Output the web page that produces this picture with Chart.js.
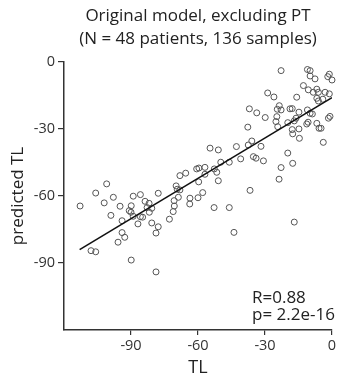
<!DOCTYPE html>
<html>
<head>
<meta charset="utf-8">
<script src="https://cdn.jsdelivr.net/npm/chart.js@4.4.0/dist/chart.umd.min.js"></script>
<style>
  html, body { margin:0; padding:0; background:#fff; }
  #wrap { width:343px; height:382px; }
</style>
</head>
<body>
<div id="wrap"><canvas id="myCanvas" width="343" height="382"></canvas></div>
<script>
// measured TL vs predicted TL, one entry per sample
var tl = [
  -112.8,-107.9,-105.8,-105.8,-102.0,-100.9,-99.0,-97.9,-95.8,-94.9,-94.0,-94.0,-92.8,-90.8,-90.0,-89.9,-89.9,-89.0,-89.0,-86.9,
  -85.8,-85.8,-84.8,-83.7,-82.8,-81.9,-81.8,-80.7,-80.7,-78.8,-78.8,-77.8,-77.8,-72.8,-71.1,-70.6,-70.7,-68.8,-69.8,-68.1,
  -69.3,-68.1,-65.5,-63.7,-63.6,-60.0,-57.9,-59.7,-60.6,-59.6,-56.9,-56.9,-54.6,-50.9,-52.7,-51.6,-50.9,-49.8,-46.0,-42.8,
  -40.9,-37.5,-52.8,-46.0,-43.9,-36.7,
  -37.7,-37.0,-33.7,-29.9,-28.8,-26.0,-22.8,-23.6,-24.5,-22.8,-24.7,-25.1,-24.3,-18.8,-17.8,-15.8,-14.8,-12.8,-11.0,-9.8,
  -9.8,-7.6,-1.2,-1.9,0,-10.6,-6.8,-8.4,-6.1,-3.1,-1.2,-6.8,-6.1,-4.1,-11.0,-9.8,-8.8,-1.6,-0.9,-16.1,
  -16.9,-19.8,-11.3,-10.7,-6.8,-5.8,-4.9,-17.8,-14.8,-17.6,-14.6,-3.9,-35.9,-31.8,-35.2,-34.0,-30.7,-19.8,-17.6,-22.8,
  -23.7,-16.9
];
var predicted = [
  -64.5,-84.5,-85.0,-58.7,-63.1,-54.6,-68.7,-60.6,-80.7,-64.6,-71.1,-76.4,-78.5,-66.6,-67.3,-64.4,-88.7,-60.1,-69.1,-72.5,
  -59.4,-69.3,-69.5,-62.4,-65.2,-63.3,-67.3,-65.5,-72.1,-76.6,-94.0,-58.8,-73.8,-70.4,-67.0,-64.5,-62.1,-60.6,-55.5,-57.3,
  -57.0,-50.9,-49.8,-63.6,-61.0,-60.8,-58.5,-53.7,-47.9,-47.5,-47.2,-50.3,-38.6,-39.4,-47.9,-49.4,-53.2,-44.9,-44.9,-37.9,
  -43.4,-37.2,-65.2,-65.2,-76.3,-57.5,
  -29.2,-21.0,-22.8,-24.9,-13.9,-15.7,-3.9,-19.6,-21.2,-21.5,-24.5,-26.7,-29.0,-21.0,-20.9,-15.8,-22.5,-10.6,-3.4,-3.9,
  -6.3,-7.6,-5.5,-6.6,-8.1,-12.5,-12.2,-13.6,-13.6,-13.6,-14.3,-16.3,-17.5,-16.7,-21.5,-23.0,-23.3,-25.2,-24.4,-25.2,
  -26.4,-27.2,-27.8,-27.0,-27.5,-29.7,-29.7,-30.3,-30.0,-32.2,-34.2,-36.0,-35.4,-37.8,-42.4,-43.1,-44.3,-40.8,-45.4,-47.3,
  -52.5,-71.7
];
// regression line end points
var fitTL = [-113, 0];
var fitPred = [-84, -16];

var xTicks = [-90, -60, -30, 0];
var yTicks = [-90, -60, -30, 0];
var titleLines = ["Original model, excluding PT", "(N = 48 patients, 136 samples)"];
var statLines = ["R=0.88", "p= 2.2e-16"];

var FONT = "'Open Sans', sans-serif";
Chart.defaults.font.family = FONT;
Chart.defaults.color = '#333';

var points = tl.map(function(v, i){ return {x: v, y: predicted[i]}; });
var fit = fitTL.map(function(v, i){ return {x: v, y: fitPred[i]}; });

// R and p text in the lower right corner
var statsText = {
  id: 'statsText',
  afterDatasetsDraw: function(chart){
    var ctx = chart.ctx, a = chart.chartArea;
    ctx.save();
    ctx.font = '17px ' + FONT;
    ctx.fillStyle = '#222';
    ctx.textAlign = 'left';
    ctx.textBaseline = 'alphabetic';
    ctx.fillText(statLines[0], a.right - 80, a.bottom - 27);
    ctx.fillText(statLines[1], a.right - 80, a.bottom - 10);
    ctx.restore();
  }
};

var myChart = document.getElementById("myCanvas").getContext('2d');
var chart = new Chart(myChart, {
  data: {
    datasets: [
      {
        type: 'line',
        data: fit,
        borderColor: '#111',
        borderWidth: 1.6,
        pointRadius: 0,
        fill: false
      },
      {
        type: 'scatter',
        data: points,
        pointRadius: 3,
        borderWidth: 1,
        borderColor: '#555',
        backgroundColor: 'rgba(0,0,0,0)',
        clip: false
      }
    ]
  },
  options: {
    responsive: false,
    animation: false,
    layout: { padding: { left: 0, right: 11, top: 0, bottom: 0 } },
    plugins: {
      legend: { display: false },
      tooltip: { enabled: false },
      title: {
        display: true,
        fullSize: false,
        text: titleLines,
        color: '#222',
        font: { size: 17, weight: 'normal', lineHeight: 1.35 },
        padding: { top: 5, bottom: 11 }
      }
    },
    scales: {
      x: {
        type: 'linear',
        min: -120, max: 0,
        afterBuildTicks: function(s){ s.ticks = xTicks.map(function(v){ return {value: v}; }); },
        afterFit: function(s){ s.height = 52; },
        ticks: { font: { size: 14.5 }, color: '#333', padding: 2, maxRotation: 0 },
        grid: { drawOnChartArea: false, tickLength: 5, color: '#333', lineWidth: 1.2 },
        border: { color: '#333', width: 1.5 },
        title: { display: true, text: 'TL', color: '#222', font: { size: 18 }, padding: { top: 0, bottom: 3 } }
      },
      y: {
        type: 'linear',
        min: -120, max: 0,
        afterBuildTicks: function(s){ s.ticks = yTicks.map(function(v){ return {value: v}; }); },
        afterFit: function(s){ s.width = 64; },
        ticks: { font: { size: 14.5 }, color: '#333', padding: 3 },
        grid: { drawOnChartArea: false, tickLength: 6, color: '#333', lineWidth: 1.2 },
        border: { color: '#333', width: 1.5 },
        title: { display: true, text: 'predicted TL', color: '#222', font: { size: 17 }, padding: { top: 8, bottom: 0 } }
      }
    }
  },
  plugins: [statsText]
});
</script>
</body>
</html>
